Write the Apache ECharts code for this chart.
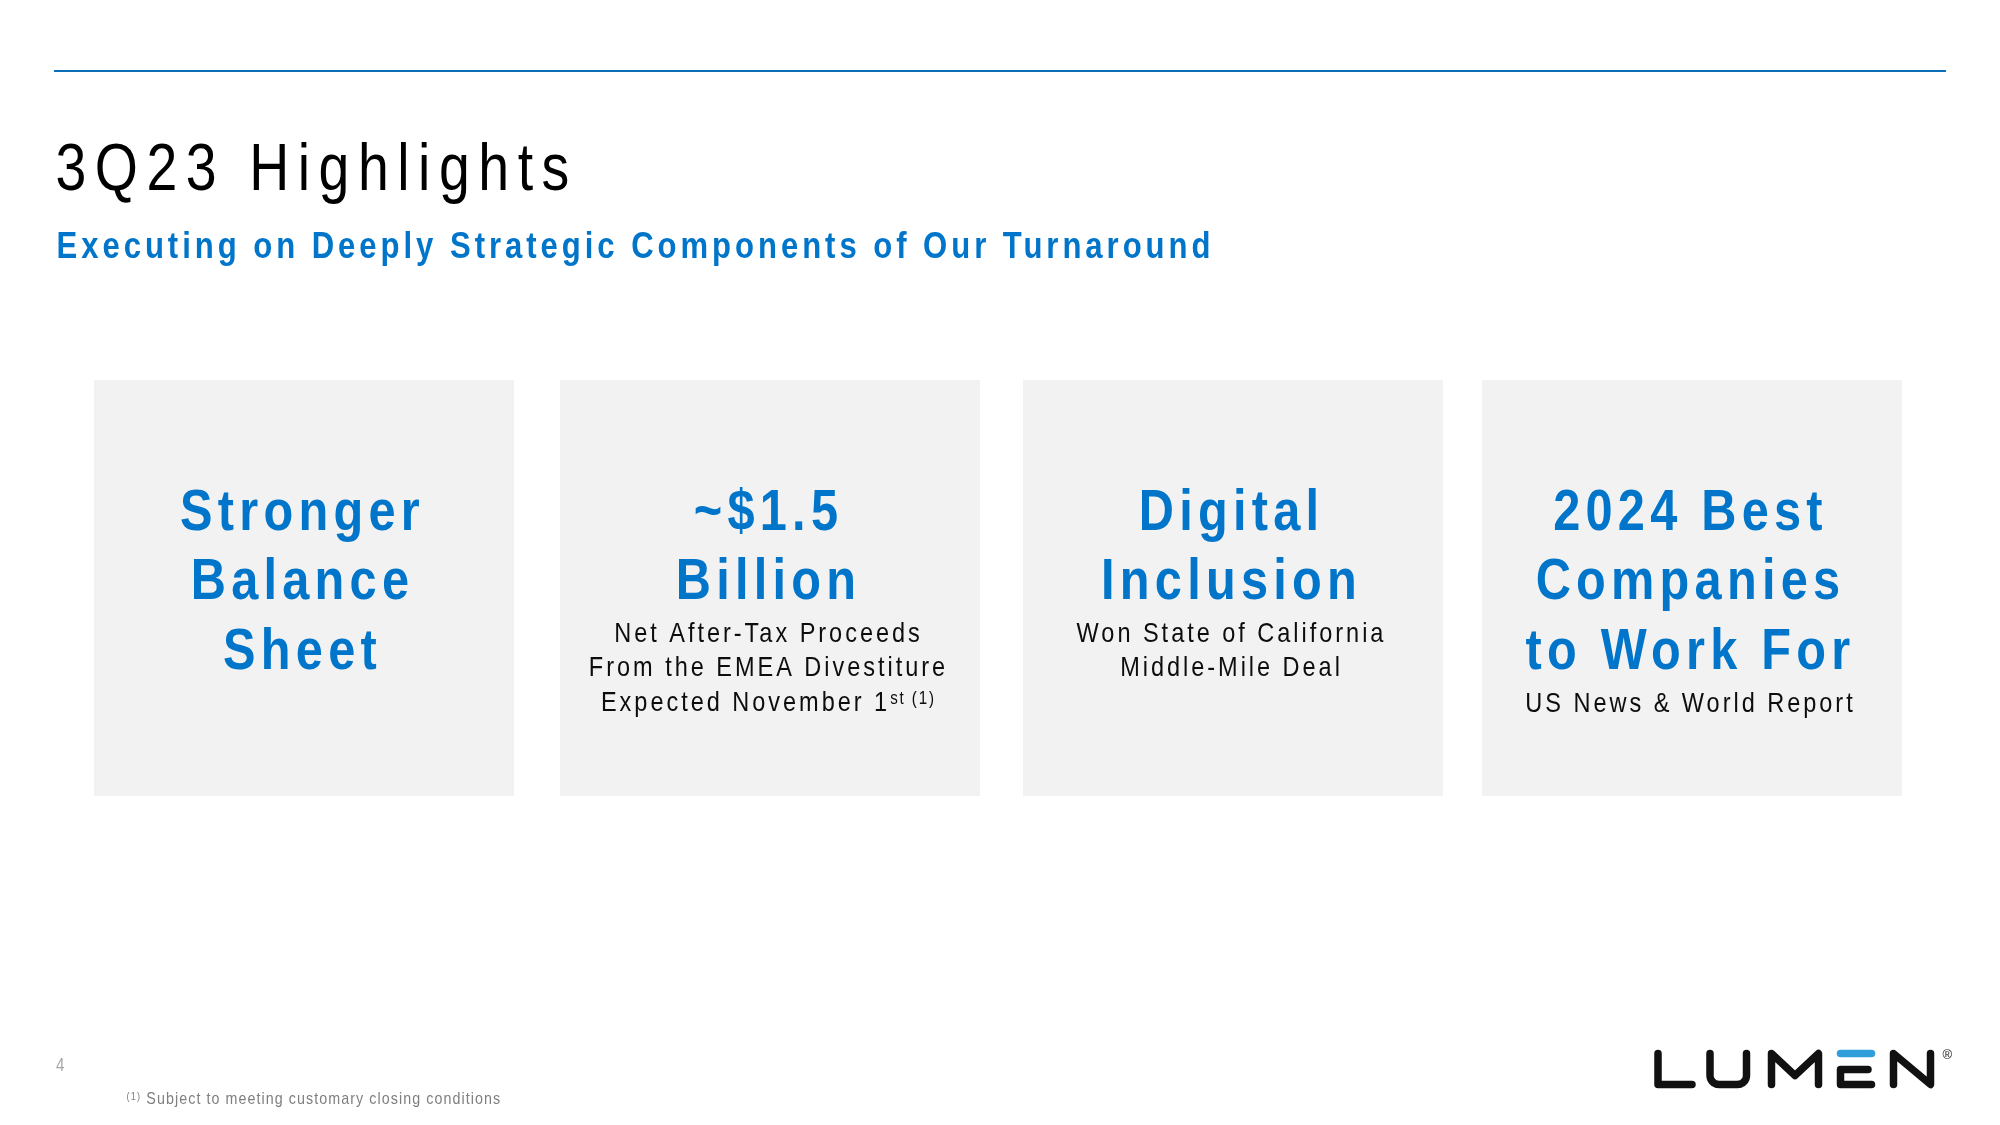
<!DOCTYPE html>
<html>
<head>
<meta charset="utf-8">
<script src="https://cdn.jsdelivr.net/npm/echarts/dist/echarts.min.js"></script>
<style>
html,body{margin:0;padding:0;background:#ffffff;}
#chart{width:2000px;height:1125px;}
</style>
</head>
<body>
<div id="chart"></div>
<script>
// ---------- content ----------
const pageTitle = '3Q23 Highlights';
const pageSubtitle = 'Executing on Deeply Strategic Components of Our Turnaround';
const cardHeadings = [
  ['Stronger', 'Balance', 'Sheet'],
  ['~$1.5', 'Billion'],
  ['Digital', 'Inclusion'],
  ['2024 Best', 'Companies', 'to Work For']
];
const cardDetails = [
  [],
  ['Net After-Tax Proceeds', 'From the EMEA Divestiture', 'Expected November 1'],
  ['Won State of California', 'Middle-Mile Deal'],
  ['US News & World Report']
];
const cardDetailSup = ['', 'st (1)', '', ''];
const footnoteMark = '(1)';
const footnoteText = 'Subject to meeting customary closing conditions';
const pageNumber = '4';

// ---------- layout / style ----------
const BLUE = '#0075C9';
const RULE = '#0B6FB8';
const CARD_FILL = '#F2F2F2';
const cardLeft = [94, 560, 1023, 1482];
const CARD_W = 420, CARD_TOP = 380, CARD_H = 416;
const HEAD_Y0 = 509.5, HEAD_STEP = 69.7, BODY_GAP = 53, BODY_STEP = 34.5;
const DY = 0.07;   // cap-centre correction, in em

// font detection (Arial Narrow look-alike if present)
const mc = document.createElement('canvas').getContext('2d');
function rawW(font, text) { mc.font = font; if ('letterSpacing' in mc) mc.letterSpacing = '0px'; return mc.measureText(text).width; }
const probe = 'Stronger Balance Sheet';
const hasNarrow = Math.abs(rawW('40px "Liberation Sans Narrow", monospace', probe) - rawW('40px monospace', probe)) > 0.5;
const FAMILY = hasNarrow ? '"Liberation Sans Narrow", "Liberation Sans", Arial, sans-serif'
                         : '"Liberation Sans", Arial, sans-serif';
const SX = hasNarrow ? 1 : 0.84;   // horizontal condensing to mimic a narrow face

// text classes: size, weight, and a sample with its width in the reference (for tracking)
const cls = {
  title: { size: 66, weight: 'normal', sample: pageTitle, target: 510 },
  sub:   { size: 37, weight: 'bold',   sample: pageSubtitle, target: 1152 },
  head:  { size: 58, weight: 'bold',   sample: cardHeadings[3][1], target: 301 },
  body:  { size: 28, weight: 'normal', sample: cardDetails[1][0], target: 304 },
  foot:  { size: 17, weight: 'normal', sample: footnoteText, target: 353 }
};
const lsBySize = {};
Object.keys(cls).forEach(k => {
  const c = cls[k];
  const nat = rawW(c.weight + ' ' + c.size + 'px ' + FAMILY, c.sample) - 0.07 * c.size;
  lsBySize[c.size] = (c.target / SX - nat) / (c.sample.length - 1);
});
const lsRatio = lsBySize[cls.body.size] / cls.body.size;
function lsFor(size) { return lsBySize[size] !== undefined ? lsBySize[size] : lsRatio * size; }

// apply character tracking to canvas text drawing & measuring
(function () {
  const CP = CanvasRenderingContext2D.prototype;
  const _fill = CP.fillText, _meas = CP.measureText;
  function applyLS(ctx) {
    if (!('letterSpacing' in ctx)) return;
    const m = /([\d.]+)px/.exec(ctx.font || '');
    if (!m) return;
    ctx.letterSpacing = lsFor(parseFloat(m[1])).toFixed(2) + 'px';
  }
  CP.fillText = function (t, x, y, mw) { applyLS(this); return mw === undefined ? _fill.call(this, t, x, y) : _fill.call(this, t, x, y, mw); };
  CP.measureText = function (t) { applyLS(this); return _meas.call(this, t); };
})();

function txt(x, y, text, c, fill, align) {
  return {
    type: 'text', x: x, y: y + DY * c.size, scaleX: SX, silent: true,
    style: {
      text: text, fontSize: c.size, fontWeight: c.weight, fontFamily: FAMILY,
      fill: fill, align: align || 'center', verticalAlign: 'middle'
    }
  };
}

const elements = [];
// top rule
elements.push({ type: 'line', silent: true, shape: { x1: 54, y1: 71, x2: 1946, y2: 71 }, style: { stroke: RULE, lineWidth: 2 } });
// title + subtitle
elements.push(txt(55.5, 167.5, pageTitle, cls.title, '#000000', 'left'));
elements.push(txt(56.5, 245, pageSubtitle, cls.sub, BLUE, 'left'));

// cards
cardHeadings.forEach((heads, i) => {
  const left = cardLeft[i];
  const cx = left + CARD_W / 2 - 1.5;
  elements.push({ type: 'rect', silent: true, shape: { x: left, y: CARD_TOP, width: CARD_W, height: CARD_H }, style: { fill: CARD_FILL } });
  heads.forEach((h, j) => elements.push(txt(cx, HEAD_Y0 + j * HEAD_STEP, h, cls.head, BLUE)));
  const bodyY0 = HEAD_Y0 + (heads.length - 1) * HEAD_STEP + BODY_GAP;
  cardDetails[i].forEach((line, j) => {
    const y = bodyY0 + j * BODY_STEP;
    const isLast = j === cardDetails[i].length - 1;
    if (isLast && cardDetailSup[i]) {
      elements.push({
        type: 'text', x: cx, y: y + DY * cls.body.size, scaleX: SX, silent: true,
        style: {
          text: '{m|' + line + '}{s|' + cardDetailSup[i] + '}',
          align: 'center', verticalAlign: 'middle',
          rich: {
            m: { fontSize: cls.body.size, fontFamily: FAMILY, fill: '#0d0d0d', lineHeight: 28, verticalAlign: 'middle' },
            s: { fontSize: 18, fontFamily: FAMILY, fill: '#0d0d0d', lineHeight: 18, verticalAlign: 'top' }
          }
        }
      });
    } else {
      elements.push(txt(cx, y, line, cls.body, '#0d0d0d'));
    }
  });
});

// page number & footnote
elements.push({
  type: 'text', x: 56, y: 1064.5 + DY * 18, scaleX: SX, silent: true,
  style: { text: pageNumber, fontSize: 18, fontFamily: FAMILY, fill: '#a6a6a6', align: 'left', verticalAlign: 'middle' }
});
elements.push({
  type: 'text', x: 126.5, y: 1098 + DY * 17, scaleX: SX, silent: true,
  style: {
    text: '{s|' + footnoteMark + '}{t| ' + footnoteText + '}',
    align: 'left', verticalAlign: 'middle',
    rich: {
      s: { fontSize: 11, fontFamily: FAMILY, fill: '#7f7f7f', lineHeight: 11, verticalAlign: 'top' },
      t: { fontSize: cls.foot.size, fontFamily: FAMILY, fill: '#7f7f7f', lineHeight: 17, verticalAlign: 'middle' }
    }
  }
});

// LUMEN logo (drawn as strokes)
function arcPts(cx, cy, r, a0, a1, n) {
  const pts = [];
  for (let k = 0; k <= n; k++) {
    const a = a0 + (a1 - a0) * k / n;
    pts.push([cx + r * Math.cos(a), cy + r * Math.sin(a)]);
  }
  return pts;
}
const LT = 1053.5, LB = 1084.5;
const uPts = [[1710, LT]]
  .concat(arcPts(1719, LB - 9, 9, Math.PI, Math.PI / 2, 8))
  .concat(arcPts(1737.5, LB - 9, 9, Math.PI / 2, 0, 8))
  .concat([[1746.5, LT]]);
const logoStroke = { stroke: '#111111', lineWidth: 7.5, lineCap: 'round', lineJoin: 'round' };
elements.push({ type: 'polyline', silent: true, shape: { points: [[1658, LT], [1658, LB], [1692, LB]] }, style: logoStroke });
elements.push({ type: 'polyline', silent: true, shape: { points: uPts }, style: logoStroke });
elements.push({ type: 'polyline', silent: true, shape: { points: [[1771.5, LB], [1771.5, LT], [1795, 1075.5], [1818.5, LT], [1818.5, LB]] }, style: logoStroke });
elements.push({ type: 'polyline', silent: true, shape: { points: [[1840.5, LT], [1871.5, LT]] }, style: Object.assign({}, logoStroke, { stroke: '#2E9FDB' }) });
elements.push({ type: 'polyline', silent: true, shape: { points: [[1868, 1069.5], [1840.5, 1069.5], [1840.5, LB], [1871.5, LB]] }, style: logoStroke });
elements.push({ type: 'polyline', silent: true, shape: { points: [[1893.5, LB], [1893.5, LT], [1930.5, LB], [1930.5, LT]] }, style: logoStroke });
elements.push({
  type: 'text', x: 1948, y: 1055, silent: true,
  style: { text: '®', fontSize: 13, fontFamily: '"Liberation Sans", Arial, sans-serif', fill: '#111111', align: 'center', verticalAlign: 'middle' }
});

const chart = echarts.init(document.getElementById('chart'), null, { renderer: 'canvas' });
chart.setOption({
  animation: false,
  backgroundColor: '#ffffff',
  graphic: { elements: elements }
});
</script>
</body>
</html>
